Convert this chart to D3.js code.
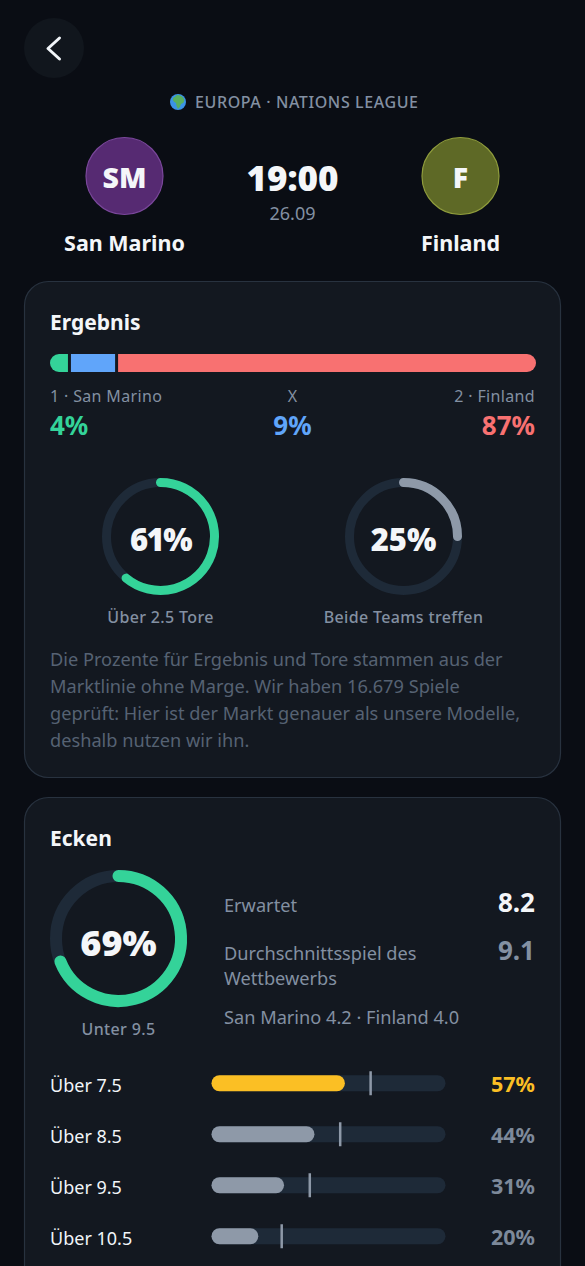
<!DOCTYPE html>
<html>
<head>
<meta charset="utf-8">
<script src="https://cdn.jsdelivr.net/npm/d3@7"></script>
<style>
  html, body { margin: 0; padding: 0; background: #0a0d14; overflow: hidden; }
  svg { display: block; }
  text { font-family: "Noto Sans", sans-serif; }
</style>
</head>
<body>
<svg id="chart" width="585" height="1266"></svg>
<script>
// Values
var resultNames = ["1 · San Marino", "X", "2 · Finland"];
var resultValues = [4, 9.7, 86.3];
var resultLabels = ["4%", "9%", "87%"];
var resultColors = ["#34d399", "#60a5fa", "#f87171"];

var ringNames = ["Über 2.5 Tore", "Beide Teams treffen"];
var ringValues = [61, 25];
var ringColors = ["#34d399", "#8e99a8"];

var cornerRingValue = 69;
var cornerRingName = "Unter 9.5";

var cornerLines = ["Über 7.5", "Über 8.5", "Über 9.5", "Über 10.5"];
var cornerValues = [57, 44, 31, 20];
var cornerMarkers = [68, 55, 42, 30];
var cornerColors = ["#fbbf24", "#8e99a8", "#8e99a8", "#8e99a8"];

var noteLines = [
  "Die Prozente für Ergebnis und Tore stammen aus der",
  "Marktlinie ohne Marge. Wir haben 16.679 Spiele",
  "geprüft: Hier ist der Markt genauer als unsere Modelle,",
  "deshalb nutzen wir ihn."
];

var svg = d3.select("#chart");

function label(x, y, str, size, weight, color, anchor, spacing) {
  return svg.append("text")
    .attr("x", x)
    .attr("y", y)
    .attr("font-size", size)
    .attr("font-weight", weight)
    .attr("fill", color)
    .attr("text-anchor", anchor || "start")
    .attr("letter-spacing", spacing || 0)
    .text(str);
}

// Draws a progress ring from 12 o'clock, stroked so the round caps overhang the ends
function ring(cx, cy, r, width, value, color) {
  var angle = d3.scaleLinear().domain([0, 100]).range([-Math.PI / 2, 1.5 * Math.PI]);
  var g = svg.append("g").attr("transform", "translate(" + cx + "," + cy + ")");
  g.append("circle")
    .attr("r", r)
    .attr("fill", "none")
    .attr("stroke", "#1e2a38")
    .attr("stroke-width", width);
  var p = d3.path();
  p.arc(0, 0, r, angle(0), angle(value));
  g.append("path")
    .attr("d", p.toString())
    .attr("fill", "none")
    .attr("stroke", color)
    .attr("stroke-width", width)
    .attr("stroke-linecap", "round");
}

// Header
svg.append("circle").attr("cx", 54).attr("cy", 48).attr("r", 30).attr("fill", "#11161d");
svg.append("path")
  .attr("d", d3.line()([[59.5, 38], [48, 48.5], [59.5, 59]]))
  .attr("fill", "none")
  .attr("stroke", "#f1f5f9")
  .attr("stroke-width", 3)
  .attr("stroke-linecap", "round")
  .attr("stroke-linejoin", "round");

// globe
svg.append("circle").attr("cx", 178).attr("cy", 102).attr("r", 8).attr("fill", "#3b93e6");
svg.append("path").attr("d", "M177 95q5 0 7 4q1 4-3 5q-1 4-3 5q-2-3-2-6q-4-2-3-5q2-1 4-3z").attr("fill", "#58b060");
label(195, 107.5, "EUROPA · NATIONS LEAGUE", 16, 500, "#8390a2", "start", 0.6);

var teams = [
  { x: 124.5, short: "SM", name: "San Marino", fill: "#562a72", line: "#7a479b" },
  { x: 460.5, short: "F", name: "Finland", fill: "#5e6926", line: "#8f9c3c" }
];
teams.forEach(function (t) {
  svg.append("circle").attr("cx", t.x).attr("cy", 176).attr("r", 38.5)
    .attr("fill", t.fill).attr("stroke", t.line).attr("stroke-width", 1.2);
  label(t.x, 187.5, t.short, 28.5, 900, "#f4f6f9", "middle");
  label(t.x, 250.5, t.name, 21.5, 700, "#f4f6f9", "middle");
});
label(292.5, 191, "19:00", 35, 900, "#f4f6f9", "middle");
label(292.5, 220, "26.09", 18, 400, "#8390a2", "middle");

// Cards
svg.append("rect").attr("x", 24.5).attr("y", 281.5).attr("width", 536).attr("height", 496).attr("rx", 24)
  .attr("fill", "#131820").attr("stroke", "#28323f").attr("stroke-width", 1.2);
svg.append("rect").attr("x", 24.5).attr("y", 797.5).attr("width", 536).attr("height", 520).attr("rx", 24)
  .attr("fill", "#131820").attr("stroke", "#28323f").attr("stroke-width", 1.2);

// Ergebnis
label(50, 329.5, "Ergebnis", 21, 700, "#f4f6f9");

var stackX = d3.scaleLinear().domain([0, d3.sum(resultValues)]).range([50, 536]);
var stackStart = d3.cumsum([0].concat(resultValues));
var stack = svg.append("g");
stack.append("clipPath").attr("id", "stackClip")
  .append("rect").attr("x", 50).attr("y", 354).attr("width", 486).attr("height", 18).attr("rx", 9);
stack.append("g").attr("clip-path", "url(#stackClip)")
  .selectAll("rect")
  .data(resultValues)
  .join("rect")
  .attr("x", function (d, i) { return stackX(stackStart[i]) + (i > 0 ? 1.5 : 0); })
  .attr("y", 354)
  .attr("width", function (d, i) { return stackX(d) - stackX(0) - (i === 1 ? 3 : 1.5); })
  .attr("height", 18)
  .attr("fill", function (d, i) { return resultColors[i]; });

var resultX = [50, 292.5, 535];
var resultAnchor = ["start", "middle", "end"];
resultNames.forEach(function (name, i) {
  label(resultX[i], 402, name, 16, 400, "#8390a2", resultAnchor[i], 0.35);
  label(resultX[i], 435, resultLabels[i], 26, 700, resultColors[i], resultAnchor[i]);
});

// Goal rings
var ringX = [160.5, 403.5];
ringValues.forEach(function (v, i) {
  ring(ringX[i], 536.5, 54, 9, v, ringColors[i]);
  label(ringX[i], 551, v + "%", 31, 900, "#f4f6f9", "middle", v === 61 ? -1.5 : 0);
  label(ringX[i], 622.5, ringNames[i], 16, 500, "#8390a2", "middle", 0.35);
});

noteLines.forEach(function (line, i) {
  label(50, 665.5 + i * 27, line, 18.2, 400, "#566273");
});

// Ecken
label(50, 845.5, "Ecken", 21, 700, "#f4f6f9");
ring(118.5, 938.5, 62.5, 12, cornerRingValue, "#34d399");
label(118.5, 956, cornerRingValue + "%", 36, 900, "#f4f6f9", "middle");
label(118.5, 1034.5, cornerRingName, 16, 500, "#8390a2", "middle", 0.35);

label(224, 912, "Erwartet", 18.2, 400, "#8390a2");
label(535, 911.5, "8.2", 26, 700, "#f4f6f9", "end");
label(224, 960, "Durchschnittsspiel des", 18.2, 400, "#8390a2");
label(224, 985, "Wettbewerbs", 18.2, 400, "#8390a2");
label(535, 960, "9.1", 26, 700, "#8390a2", "end");
label(224, 1023.5, "San Marino 4.2 · Finland 4.0", 18.2, 400, "#8390a2");

// Corner bars
var barX = d3.scaleLinear().domain([0, 100]).range([211.5, 445.5]);
var barY = d3.scaleBand().domain(cornerLines).range([1057.75, 1261.75]);
var rows = svg.selectAll("g.row")
  .data(cornerLines)
  .join("g")
  .attr("class", "row")
  .attr("transform", function (d) { return "translate(0," + (barY(d) + barY.bandwidth() / 2) + ")"; });

rows.append("rect")
  .attr("x", barX(0)).attr("y", -8).attr("height", 16).attr("rx", 8)
  .attr("width", barX(100) - barX(0))
  .attr("fill", "#1e2a38");
rows.append("rect")
  .attr("x", barX(0)).attr("y", -8).attr("height", 16).attr("rx", 8)
  .attr("width", function (d, i) { return barX(cornerValues[i]) - barX(0); })
  .attr("fill", function (d, i) { return cornerColors[i]; });
rows.append("rect")
  .attr("x", function (d, i) { return barX(cornerMarkers[i]) - 1.25; })
  .attr("y", -12).attr("width", 2.5).attr("height", 24)
  .attr("fill", "#8e99a8");
rows.append("text")
  .attr("x", 50).attr("y", 8.5)
  .attr("font-size", 18).attr("fill", "#f1f5f9")
  .text(function (d) { return d; });
rows.append("text")
  .attr("x", 535).attr("y", 8.5)
  .attr("text-anchor", "end")
  .attr("font-size", 21.5).attr("font-weight", 700)
  .attr("fill", function (d, i) { return i === 0 ? "#fbbf24" : "#7d899a"; })
  .text(function (d, i) { return cornerValues[i] + "%"; });
</script>
</body>
</html>
